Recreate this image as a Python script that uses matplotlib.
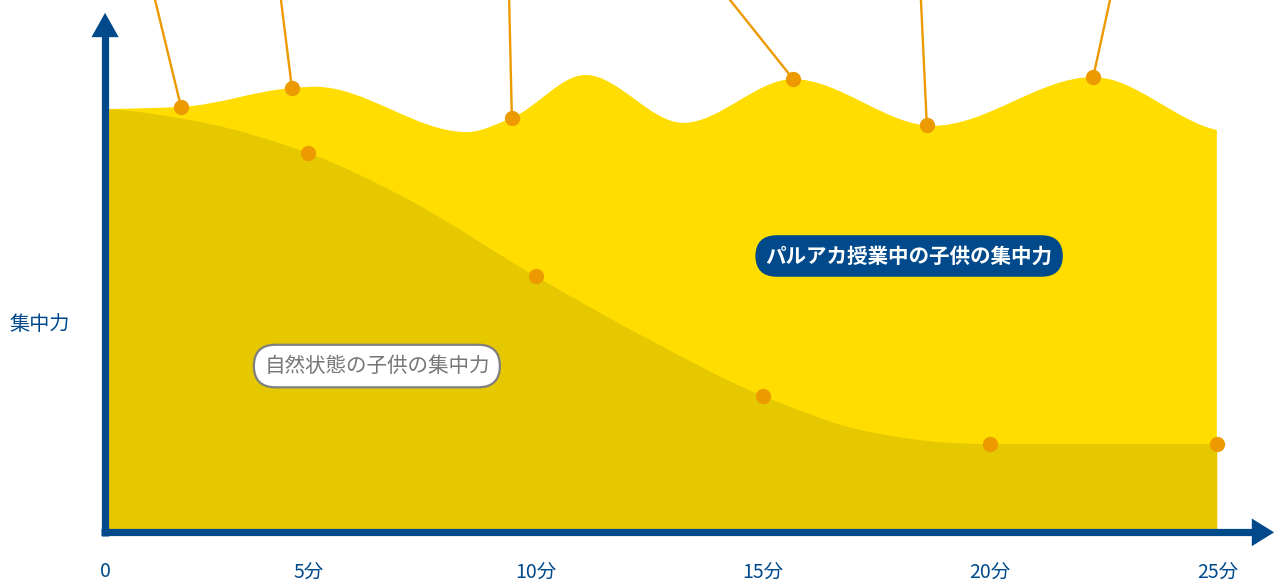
import matplotlib
matplotlib.use('Agg')
import matplotlib.pyplot as plt
import numpy as np
from matplotlib.path import Path
from matplotlib.patches import PathPatch

plt.rcParams['font.family'] = ['Noto Sans CJK JP', 'DejaVu Sans']

# 授業中 (upper curve), minutes vs concentration
upper_x = [0.62, 2.20, 4.64, 5.15, 8.49, 9.48, 11.10, 13.25, 15.67, 18.75, 22.27, 24.99]
upper_y = [100.0, 100.5, 105.0, 105.3, 94.5, 97.9, 108.1, 96.7, 107.1, 96.0, 107.6, 95.0]
upper_dot_x = [2.20, 4.64, 9.48, 15.67, 18.61, 22.27]
upper_dot_y = [100.5, 105.0, 97.9, 107.1, 96.1, 107.6]
leader_top_x = [1.63, 4.40, 9.42, 14.28, 18.48, 22.64]

# 自然状態 (lower curve)
lower_x = [0.62, 2.62, 5, 7.02, 10, 12.52, 15, 17.36, 19.12, 20, 25]
lower_y = [100.0, 96.9, 89.5, 79.5, 60.2, 45.0, 31.7, 23.1, 20.5, 20.2, 20.2]
lower_dot_x = [5, 10, 15, 20, 25]
lower_dot_y = [89.5, 60.2, 31.7, 20.2, 20.2]

tick_pos = [0.53, 5, 10, 15, 20, 25]
tick_labels = ['0', '5分', '10分', '15分', '20分', '25分']

blue = '#004a8c'
orange = '#ec9a00'


def smooth_area(xs, ys):
    # monotone cubic (pchip-like) bezier through the points, closed to baseline
    xs = np.asarray(xs, float)
    ys = np.asarray(ys, float)
    h = np.diff(xs)
    d = np.diff(ys) / h
    m = np.zeros_like(ys)
    for i in range(1, len(ys) - 1):
        if d[i - 1] * d[i] > 0:
            w1 = 2 * h[i] + h[i - 1]
            w2 = h[i] + 2 * h[i - 1]
            m[i] = (w1 + w2) / (w1 / d[i - 1] + w2 / d[i])
    m[0] = d[0] * 0.5
    m[-1] = d[-1] * 0.5
    verts = [(xs[0], 0), (xs[0], ys[0])]
    codes = [Path.MOVETO, Path.LINETO]
    for i in range(len(xs) - 1):
        dx = h[i] / 3.0
        verts += [(xs[i] + dx, ys[i] + m[i] * dx),
                  (xs[i + 1] - dx, ys[i + 1] - m[i + 1] * dx),
                  (xs[i + 1], ys[i + 1])]
        codes += [Path.CURVE4] * 3
    verts += [(xs[-1], 0), (xs[0], 0)]
    codes += [Path.LINETO, Path.CLOSEPOLY]
    return Path(verts, codes)


fig = plt.figure(figsize=(12.75, 5.82), dpi=100)
ax = fig.add_axes([0, 0, 1, 1])
ax.set_xlim(-1.782, 26.27)
ax.set_ylim(-12.62, 125.95)
ax.axis('off')
ytop = ax.get_ylim()[1]

ax.add_patch(PathPatch(smooth_area(upper_x, upper_y), facecolor='#ffdd00', edgecolor='none', zorder=1))
ax.add_patch(PathPatch(smooth_area(lower_x, lower_y), facecolor='#e6c800', edgecolor='none', zorder=2))

# leader lines to the upper points
for tx, dx, dy in zip(leader_top_x, upper_dot_x, upper_dot_y):
    ax.plot([dx, tx], [dy, ytop], color=orange, lw=1.7, zorder=3)
ax.plot(upper_dot_x, upper_dot_y, 'o', color=orange, ms=11, mec='none', zorder=4)
ax.plot(lower_dot_x, lower_dot_y, 'o', color=orange, ms=11, mec='none', zorder=4)

# axes with arrows
ax.plot([0.45, 25.8], [-0.8, -0.8], color=blue, lw=5.2, solid_capstyle='butt', zorder=5)
ax.plot([0.53, 0.53], [-1.7, 117.5], color=blue, lw=5.2, solid_capstyle='butt', zorder=5)
ax.fill([25.76, 26.25, 25.76], [-4.1, -0.8, 2.5], color=blue, lw=0, zorder=5)
ax.fill([0.23, 0.53, 0.83], [117.1, 122.9, 117.1], color=blue, lw=0, zorder=5)

for p, lab in zip(tick_pos, tick_labels):
    ax.text(p, -10.2, lab, ha='center', va='center', fontsize=14, color=blue)

ax.text(-0.9, 48.6, '集中力', ha='center', va='center', fontsize=14.5, color=blue)

ax.text(18.22, 65.0, 'パルアカ授業中の子供の集中力', ha='center', va='center',
        fontsize=14.8, color='white', fontweight='bold', zorder=6,
        bbox=dict(boxstyle='round,pad=0.5,rounding_size=1.05', fc=blue, ec='none'))
ax.text(6.51, 38.8, '自然状態の子供の集中力', ha='center', va='center',
        fontsize=14.8, color='#777777', zorder=6,
        bbox=dict(boxstyle='round,pad=0.5,rounding_size=1.05', fc='white', ec='#7f7f7f', lw=1.6))

plt.savefig('out.png', dpi=100)
